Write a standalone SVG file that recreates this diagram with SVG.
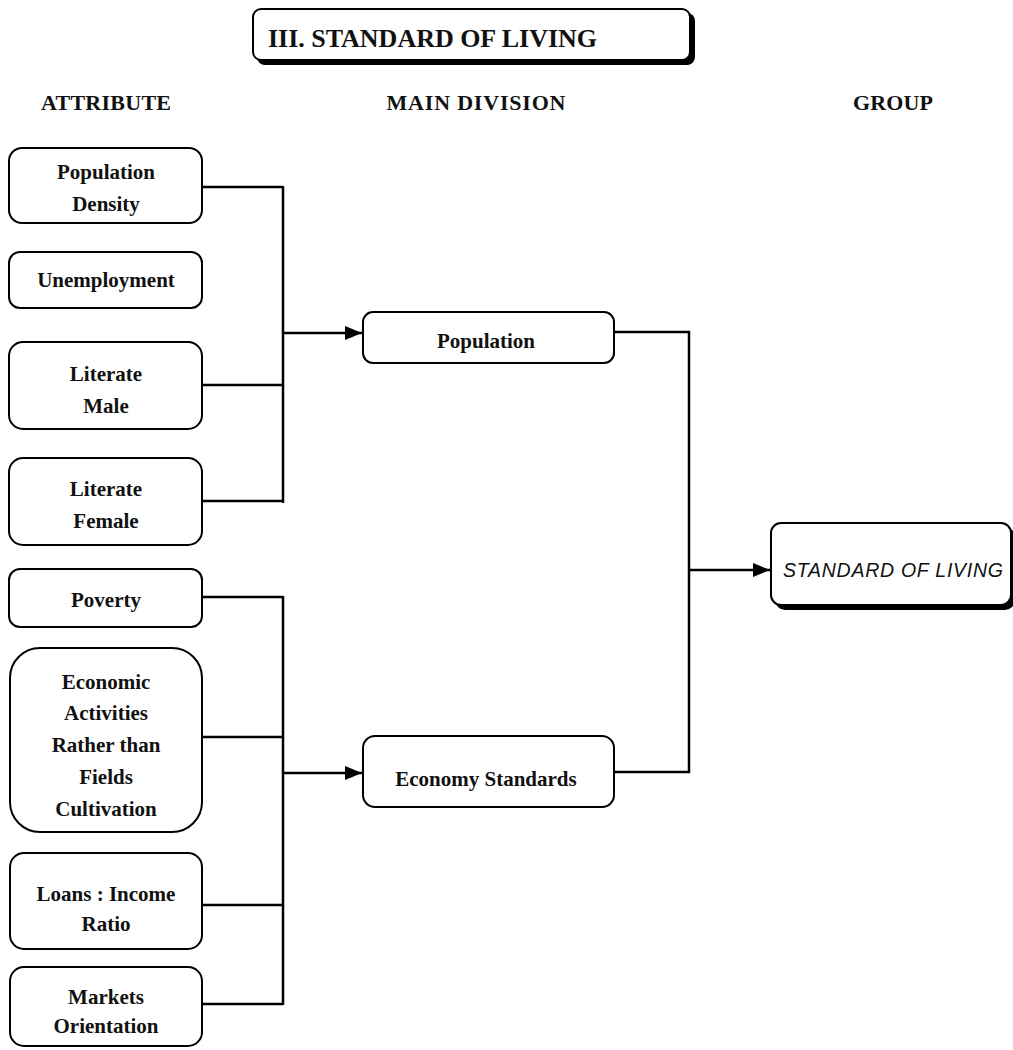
<svg xmlns="http://www.w3.org/2000/svg" width="1013" height="1050" viewBox="0 0 1013 1050">
<defs>
<marker id="arr" markerUnits="userSpaceOnUse" markerWidth="17" markerHeight="14" refX="17" refY="7" orient="auto">
<path d="M0,0 L17,7 L0,14 z" fill="#000"/>
</marker>
</defs>
<style>
.box{fill:#fff;stroke:#000;stroke-width:2}
.shadow{fill:#000;stroke:none}
.lbl{font-family:"Liberation Serif",serif;font-weight:bold;font-size:21px;fill:#111;text-anchor:middle}
.hdr{font-family:"Liberation Serif",serif;font-weight:bold;font-size:22px;fill:#111;text-anchor:middle}
.ttl{font-family:"Liberation Serif",serif;font-weight:bold;font-size:26px;fill:#111}
.grp{font-family:"Liberation Sans",Arial,sans-serif;font-style:italic;font-size:19.5px;fill:#111}
.ln{fill:none;stroke:#000;stroke-width:2.5}
.bus{fill:none;stroke:#000;stroke-width:2.5}
</style>
<rect width="1013" height="1050" fill="#fff"/>
<g id="title">
<rect class="shadow" x="257" y="13" width="438" height="52" rx="8"/>
<rect class="box" x="253" y="9" width="437" height="51" rx="8"/>
<text class="ttl" x="268" y="47" textLength="329" lengthAdjust="spacing">III. STANDARD OF LIVING</text>
</g>
<g id="headers">
<text class="hdr" x="106" y="110" textLength="130" lengthAdjust="spacing">ATTRIBUTE</text>
<text class="hdr" x="476" y="110" textLength="179" lengthAdjust="spacing">MAIN DIVISION</text>
<text class="hdr" x="893" y="110" textLength="80" lengthAdjust="spacing">GROUP</text>
</g>
<g id="connectors">
<polyline class="ln" points="202,187 283,187"/>
<polyline class="ln" points="202,385 283,385"/>
<polyline class="ln" points="202,501 283,501"/>
<line class="bus" x1="283" y1="186" x2="283" y2="503"/>
<line class="ln" x1="283" y1="333" x2="362" y2="333" marker-end="url(#arr)"/>
<polyline class="ln" points="202,597 283,597"/>
<polyline class="ln" points="202,737 283,737"/>
<polyline class="ln" points="202,905 283,905"/>
<polyline class="ln" points="202,1004 283,1004"/>
<line class="bus" x1="283" y1="596" x2="283" y2="1005"/>
<line class="ln" x1="283" y1="773" x2="362" y2="773" marker-end="url(#arr)"/>
<polyline class="ln" points="614,332 689,332 689,772 614,772"/>
<line class="ln" x1="689" y1="570" x2="770" y2="570" marker-end="url(#arr)"/>
</g>
<g id="n-popdensity">
<rect class="box" x="9" y="148" width="193" height="75" rx="13"/>
<text class="lbl" x="106" y="179">Population</text>
<text class="lbl" x="106" y="211">Density</text>
</g>
<g id="n-unemployment">
<rect class="box" x="9" y="252" width="193" height="56" rx="11"/>
<text class="lbl" x="106" y="287">Unemployment</text>
</g>
<g id="n-litmale">
<rect class="box" x="9" y="342" width="193" height="87" rx="14"/>
<text class="lbl" x="106" y="381">Literate</text>
<text class="lbl" x="106" y="413">Male</text>
</g>
<g id="n-litfemale">
<rect class="box" x="9" y="458" width="193" height="87" rx="14"/>
<text class="lbl" x="106" y="496">Literate</text>
<text class="lbl" x="106" y="528">Female</text>
</g>
<g id="n-poverty">
<rect class="box" x="9" y="569" width="193" height="58" rx="11"/>
<text class="lbl" x="106" y="607">Poverty</text>
</g>
<g id="n-econact">
<rect class="box" x="10" y="648" width="192" height="184" rx="30"/>
<text class="lbl" x="106" y="689">Economic</text>
<text class="lbl" x="106" y="720">Activities</text>
<text class="lbl" x="106" y="752">Rather than</text>
<text class="lbl" x="106" y="784">Fields</text>
<text class="lbl" x="106" y="816">Cultivation</text>
</g>
<g id="n-loans">
<rect class="box" x="10" y="853" width="192" height="96" rx="14"/>
<text class="lbl" x="106" y="901">Loans : Income</text>
<text class="lbl" x="106" y="931">Ratio</text>
</g>
<g id="n-markets">
<rect class="box" x="10" y="967" width="192" height="79" rx="14"/>
<text class="lbl" x="106" y="1004">Markets</text>
<text class="lbl" x="106" y="1033">Orientation</text>
</g>
<g id="n-population">
<rect class="box" x="363" y="312" width="251" height="51" rx="10"/>
<text class="lbl" x="486" y="348">Population</text>
</g>
<g id="n-economy">
<rect class="box" x="363" y="736" width="251" height="71" rx="12"/>
<text class="lbl" x="486" y="786">Economy Standards</text>
</g>
<g id="n-sol">
<rect class="shadow" x="775" y="527" width="240" height="83" rx="10"/>
<rect class="box" x="771" y="523" width="240" height="82" rx="10"/>
<text class="grp" x="783" y="577" textLength="220" lengthAdjust="spacing">STANDARD OF LIVING</text>
</g>
</svg>
